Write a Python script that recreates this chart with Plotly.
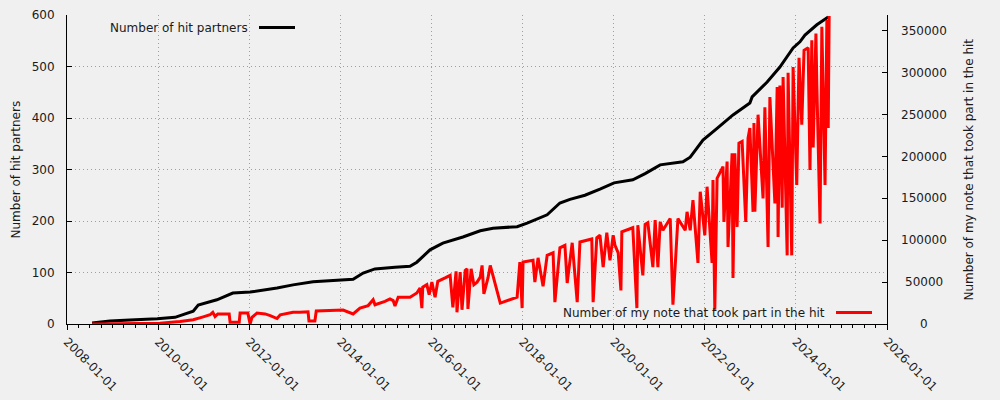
import plotly.graph_objects as go
import pandas as pd

# ---------------- data ----------------
partner_years = [2008.55, 2008.94, 2009.38, 2009.98, 2010.37, 2010.55, 2010.77, 2010.88,
                 2011.29, 2011.64, 2012.02, 2012.61, 2012.96, 2013.40, 2013.99, 2014.28,
                 2014.50, 2014.76, 2015.20, 2015.53, 2015.68, 2015.97, 2016.25, 2016.69,
                 2017.07, 2017.35, 2017.88, 2018.10, 2018.54, 2018.82, 2019.04, 2019.37,
                 2019.70, 2020.01, 2020.42, 2020.69, 2021.02, 2021.52, 2021.68, 2021.96,
                 2022.27, 2022.62, 2022.99, 2023.04, 2023.37, 2023.65, 2023.94, 2024.09,
                 2024.20, 2024.46, 2024.71]
partner_counts = [2, 6, 8, 10, 13, 19, 25, 37,
                  47, 60, 62, 70, 76, 82, 85, 87,
                  99, 107, 110, 112, 120, 144, 157, 169,
                  181, 186, 189, 196, 212, 235, 242, 250,
                  262, 274, 280, 292, 309, 315, 324, 357,
                  380, 406, 429, 441, 470, 499, 536, 548,
                  561, 581, 596]

note_years = [2008.55, 2009.38, 2010.04, 2010.48, 2010.77, 2010.99, 2011.14, 2011.20, 2011.25,
              2011.31, 2011.51, 2011.56, 2011.58, 2011.78, 2011.80, 2011.97, 2012.02, 2012.06,
              2012.17, 2012.35, 2012.46, 2012.61, 2012.68, 2012.83, 2012.96, 2013.11, 2013.29,
              2013.31, 2013.44, 2013.47, 2013.77, 2014.06, 2014.28, 2014.43, 2014.61, 2014.72,
              2014.76, 2014.87, 2014.98, 2015.09, 2015.16, 2015.20, 2015.27, 2015.53, 2015.68,
              2015.75, 2015.79, 2015.81, 2015.90, 2015.95, 2016.01, 2016.08, 2016.14, 2016.30,
              2016.41, 2016.47, 2016.54, 2016.56, 2016.63, 2016.67, 2016.74, 2016.78, 2016.80,
              2016.87, 2016.93, 2017.00, 2017.07, 2017.11, 2017.15, 2017.24, 2017.29, 2017.51,
              2017.88, 2017.94, 2017.99, 2018.01, 2018.23, 2018.27, 2018.34, 2018.45, 2018.54,
              2018.67, 2018.71, 2018.82, 2018.93, 2018.98, 2019.09, 2019.20, 2019.26, 2019.52,
              2019.55, 2019.63, 2019.70, 2019.77, 2019.85, 2019.92, 2019.99, 2020.03, 2020.10,
              2020.16, 2020.18, 2020.42, 2020.51, 2020.53, 2020.64, 2020.69, 2020.75, 2020.86,
              2020.91, 2020.97, 2021.02, 2021.08, 2021.24, 2021.30, 2021.41, 2021.57, 2021.61,
              2021.68, 2021.74, 2021.85, 2021.90, 2022.00, 2022.05, 2022.16, 2022.18, 2022.22,
              2022.27, 2022.40, 2022.42, 2022.49, 2022.51, 2022.60, 2022.62, 2022.66, 2022.71,
              2022.75, 2022.82, 2022.90, 2022.95, 2022.99, 2023.06, 2023.08, 2023.10, 2023.17,
              2023.28, 2023.32, 2023.39, 2023.43, 2023.54, 2023.59, 2023.61, 2023.65, 2023.70,
              2023.72, 2023.81, 2023.83, 2023.91, 2023.94, 2024.02, 2024.07, 2024.13, 2024.18,
              2024.27, 2024.31, 2024.35, 2024.38, 2024.44, 2024.46, 2024.53, 2024.57, 2024.64,
              2024.68, 2024.71, 2024.73]
note_counts = [0, 500, 1000, 3000, 5000, 8500, 11000, 14000, 9000,
               12000, 12000, 12000, 2000, 2000, 13000, 13000, 0, 8000,
               13000, 12000, 10000, 6500, 11000, 13000, 14000, 14000, 14500,
               3500, 3500, 15500, 16000, 16700, 12000, 19000, 22000, 29000,
               23000, 25000, 27000, 30000, 28000, 21500, 32000, 32000, 37000,
               43000, 19000, 44000, 47000, 35000, 50000, 32000, 51000, 55000,
               58000, 20000, 63000, 14000, 62000, 17000, 64000, 66000, 18000,
               66000, 47000, 50000, 56000, 70000, 36000, 55000, 70000, 25000,
               32000, 74000, 19000, 74000, 76000, 50000, 79000, 45000, 82000,
               85000, 26000, 91000, 94000, 49000, 97000, 26000, 98000, 101500,
               26000, 103000, 106000, 68000, 109000, 76000, 106000, 94000, 85000,
               40000, 110000, 115000, 19000, 118000, 58000, 119000, 121000, 68000,
               124000, 68000, 122000, 112000, 126000, 23000, 126000, 112000, 134000,
               112000, 148000, 73000, 158000, 106000, 164000, 73000, 172000, 17000,
               174000, 188000, 122000, 194000, 92000, 204000, 55000, 204000, 116000,
               216000, 218000, 122000, 222000, 234000, 134000, 240000, 134000, 250000,
               150000, 259000, 92000, 271000, 144000, 283000, 104000, 285000, 139000,
               295000, 82000, 300000, 82000, 307000, 166000, 318000, 238000, 327000,
               330000, 184000, 339000, 211000, 347000, 286000, 120000, 355000, 166000,
               363000, 234000, 368000]

x_tick_labels = ["2008-01-01", "2010-01-01", "2012-01-01", "2014-01-01", "2016-01-01",
                 "2018-01-01", "2020-01-01", "2022-01-01", "2024-01-01", "2026-01-01"]
y2_tick_values = [0, 50000, 100000, 150000, 200000, 250000, 300000, 350000]
y2_tick_labels = ["0", "50000", "100000", "150000", "200000", "250000", "300000", "350000"]

series_names = ["Number of hit partners", "Number of my note that took part in the hit"]
left_title = "Number of hit partners"
right_title = "Number of my note that took part in the hit"


def to_date(y):
    yr = int(y)
    start = pd.Timestamp(yr, 1, 1)
    end = pd.Timestamp(yr + 1, 1, 1)
    return start + (end - start) * (y - yr)


partner_dates = [to_date(v) for v in partner_years]
note_dates = [to_date(v) for v in note_years]

FONT = "DejaVu Sans"
TXT = "#1a1a1a"
GRID = "#a0a0a0"
BG = "#f0f0f0"

# plot area geometry in pixels (for paper placement of extras)
L, R, T, B = 67, 887, 15, 324
W, H = R - L, B - T


def px(xp):
    return (xp - L) / W


def py(yp):
    return (B - yp) / H


fig = go.Figure()
fig.add_trace(go.Scatter(x=partner_dates, y=partner_counts, mode="lines",
                         line=dict(color="#000000", width=3), name=series_names[0],
                         showlegend=False, yaxis="y"))
fig.add_trace(go.Scatter(x=note_dates, y=note_counts, mode="lines",
                         line=dict(color="#ff0000", width=3), name=series_names[1],
                         showlegend=False, yaxis="y2"))

fig.update_layout(
    width=1000, height=400,
    margin=dict(l=L, r=1000 - R, t=T, b=400 - B, pad=0, autoexpand=False),
    paper_bgcolor=BG, plot_bgcolor=BG,
    font=dict(family=FONT, size=12, color=TXT),
    xaxis=dict(
        type="date", range=[x_tick_labels[0], x_tick_labels[-1]], automargin=False,
        tickvals=x_tick_labels, ticktext=x_tick_labels, tickangle=45,
        ticks="outside", ticklen=5, tickcolor="#000", tickwidth=1,
        showline=True, linecolor="#000", linewidth=1, mirror=False,
        showgrid=True, gridcolor=GRID, griddash="1px,3px", gridwidth=1,
        zeroline=False,
        minor=dict(dtick="M3", tick0="2008-01-01", ticks="outside", ticklen=3,
                   tickcolor="#000", showgrid=False),
        tickfont=dict(family=FONT, size=12, color=TXT),
    ),
    yaxis=dict(
        range=[0, 600], dtick=100, tick0=0, automargin=False,
        ticks="inside", ticklen=5, tickcolor="#000",
        showline=True, linecolor="#000", linewidth=1, mirror=False,
        showgrid=True, gridcolor=GRID, griddash="1px,3px", gridwidth=1,
        zeroline=False, ticklabelstandoff=9,
        tickfont=dict(family=FONT, size=12, color=TXT),
    ),
    yaxis2=dict(
        overlaying="y", side="right", range=[0, 369100], automargin=False,
        tickvals=y2_tick_values, showticklabels=False,
        ticks="inside", ticklen=5, tickcolor="#000",
        showline=True, linecolor="#000", linewidth=1,
        showgrid=False, zeroline=False,
    ),
)

annotations = []
# right-axis tick labels (centred, like the reference)
for v, t in zip(y2_tick_values, y2_tick_labels):
    annotations.append(dict(text=t, x=px(924), xref="paper", y=v, yref="y2",
                            xanchor="center", yanchor="middle", showarrow=False,
                            font=dict(family=FONT, size=12, color=TXT)))
# axis titles
annotations.append(dict(text=left_title, x=px(15), y=0.5, xref="paper", yref="paper",
                        textangle=-90, xanchor="center", yanchor="middle", showarrow=False,
                        font=dict(family=FONT, size=12, color=TXT)))
annotations.append(dict(text=right_title, x=px(968), y=0.5, xref="paper", yref="paper",
                        textangle=-90, xanchor="center", yanchor="middle", showarrow=False,
                        font=dict(family=FONT, size=12, color=TXT)))
# legend keys (text left of the line sample, gnuplot style)
annotations.append(dict(text=series_names[0], x=px(250), y=py(27.5), xref="paper", yref="paper",
                        xanchor="right", yanchor="middle", showarrow=False,
                        font=dict(family=FONT, size=12, color=TXT)))
annotations.append(dict(text=series_names[1], x=px(827), y=py(312.5), xref="paper", yref="paper",
                        xanchor="right", yanchor="middle", showarrow=False,
                        font=dict(family=FONT, size=12, color=TXT)))
fig.update_layout(annotations=annotations)

fig.add_shape(type="line", xref="paper", yref="paper", x0=px(259), x1=px(295),
              y0=py(27.5), y1=py(27.5), line=dict(color="#000000", width=3))
fig.add_shape(type="line", xref="paper", yref="paper", x0=px(836), x1=px(872),
              y0=py(312.5), y1=py(312.5), line=dict(color="#ff0000", width=3))

fig.write_html("out.html",
               config={"displayModeBar": False},
               post_script="document.body.style.margin='0';document.body.style.padding='0';"
                           "document.body.style.background='#f0f0f0';")
